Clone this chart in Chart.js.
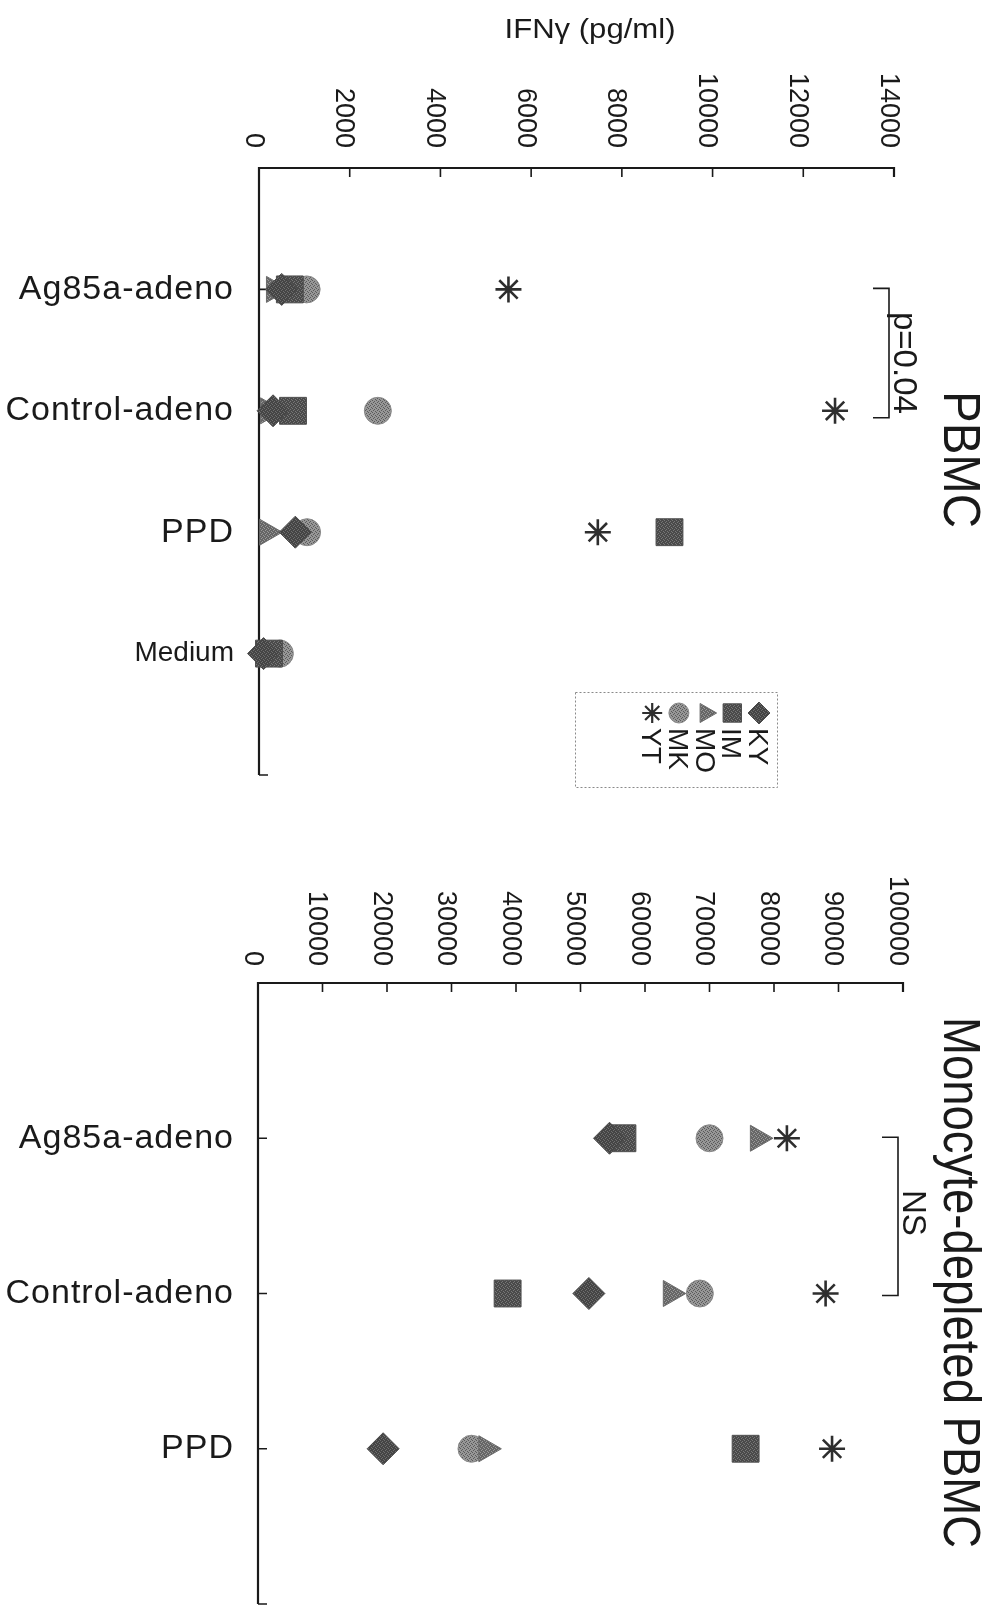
<!DOCTYPE html>
<html><head><meta charset="utf-8">
<script src="https://cdn.jsdelivr.net/npm/chart.js@4.4.1/dist/chart.umd.min.js"></script>
<style>
html,body{margin:0;padding:0;background:#fff;}
#wrap{position:relative;width:994px;height:1624px;overflow:hidden;background:#fff;}
canvas{position:absolute;left:0;top:0;}
</style></head><body>
<div id="wrap"><canvas id="c1" width="994" height="1624"></canvas><canvas id="c2" width="994" height="1624"></canvas></div>
<script>
// ---------- data ----------
const seriesNames = ['KY', 'IM', 'MO', 'MK', 'YT'];
const axisTitle = 'IFNγ (pg/ml)';

// Panel 1: PBMC
const pbmcTitle = 'PBMC';
const pbmcCategories = ['Ag85a-adeno', 'Control-adeno', 'PPD', 'Medium'];
const pbmcKY = [500, 310, 800, 100];
const pbmcIM = [680, 750, 9050, 220];
const pbmcMO = [330, 200, 180, 160];
const pbmcMK = [1050, 2620, 1060, 460];
const pbmcYT = [5500, 12700, 7470, 300];
const pbmcTicks = [0, 2000, 4000, 6000, 8000, 10000, 12000, 14000];
const pbmcStat = 'p=0.04';

// Panel 2: Monocyte-depleted PBMC
const mdTitle = 'Monocyte-depleted PBMC';
const mdCategories = ['Ag85a-adeno', 'Control-adeno', 'PPD'];
const mdKY = [54500, 51300, 19400];
const mdIM = [56500, 38700, 75600];
const mdMO = [77500, 64000, 35400];
const mdMK = [70000, 68500, 33100];
const mdYT = [82000, 88000, 89000];
const mdTicks = [0, 10000, 20000, 30000, 40000, 50000, 60000, 70000, 80000, 90000, 100000];
const mdStat = 'NS';

// ---------- styles ----------
const FONT = '"Liberation Sans", Arial, sans-serif';
const INK = '#1a1a1a';

function stipple(base, dot) {
  const c = document.createElement('canvas');
  c.width = 4; c.height = 4;
  const g = c.getContext('2d');
  g.fillStyle = base; g.fillRect(0, 0, 4, 4);
  g.fillStyle = dot;
  g.fillRect(0, 0, 1, 1); g.fillRect(2, 1, 1, 1); g.fillRect(1, 2, 1, 1); g.fillRect(3, 3, 1, 1);
  return g.createPattern(c, 'repeat');
}

const styles = [
  { pointStyle: 'rectRot', radius: 16, rotation: 0, color: '#4a4a4a', fill: stipple('#454545', '#6e6e6e') },
  { pointStyle: 'rect', radius: 19, rotation: 0, color: '#4e4e4e', fill: stipple('#4a4a4a', '#777777') },
  { pointStyle: 'triangle', radius: 15, rotation: 90, color: '#6a6a6a', fill: stipple('#666666', '#9a9a9a') },
  { pointStyle: 'circle', radius: 13.5, rotation: 0, color: '#8a8a8a', fill: stipple('#979797', '#5a5a5a') },
  { pointStyle: 'star', radius: 13, rotation: 0, color: '#2e2e2e', fill: '#2e2e2e' }
];

function buildDatasets(seriesArrays) {
  return seriesArrays.map((vals, i) => {
    const s = styles[i];
    return {
      label: seriesNames[i],
      data: vals.map((v, k) => ({ x: v, y: k + 1 })),
      pointStyle: s.pointStyle,
      pointRadius: s.radius,
      pointHoverRadius: s.radius,
      pointRotation: s.rotation,
      backgroundColor: s.fill,
      borderColor: s.color,
      borderWidth: s.pointStyle === 'star' ? 2.6 : 1,
      clip: false
    };
  });
}

function txt(ctx, s, x, y, o) {
  ctx.save();
  ctx.translate(x, y);
  if (o.rot) ctx.rotate(o.rot);
  ctx.font = o.font;
  if (o.spacing) ctx.letterSpacing = o.spacing;
  ctx.fillStyle = o.color || INK;
  ctx.textAlign = o.align || 'left';
  ctx.textBaseline = o.baseline || 'alphabetic';
  if (o.width) { const w = ctx.measureText(s).width; ctx.scale(o.width / w, 1); }
  ctx.fillText(s, 0, 0);
  ctx.restore();
}

function decorPlugin(cfg) {
  return {
    id: 'decor',
    beforeDatasetsDraw(chart) {
      const { ctx, chartArea: a, scales: { x, y } } = chart;
      ctx.save();
      ctx.strokeStyle = INK;
      ctx.lineWidth = 2.2;
      ctx.beginPath();
      ctx.moveTo(a.left, a.bottom); ctx.lineTo(a.left, a.top); ctx.lineTo(a.right, a.top); ctx.lineTo(a.right, a.top + 9);
      ctx.stroke();
      ctx.lineWidth = 1.6;
      ctx.beginPath();
      cfg.ticks.forEach(v => {
        if (v === 0) return;
        const px = x.getPixelForValue(v);
        ctx.moveTo(px, a.top); ctx.lineTo(px, a.top + 9);
      });
      for (let k = 1; k <= y.max; k++) {
        const py = y.getPixelForValue(k);
        ctx.moveTo(a.left, py); ctx.lineTo(a.left + 9, py);
      }
      ctx.stroke();
      ctx.restore();
      // value tick labels (rotated)
      cfg.ticks.forEach(v => {
        txt(ctx, String(v), x.getPixelForValue(v) - 6, a.top - cfg.labelGap,
          { rot: Math.PI / 2, align: 'right', baseline: 'middle', font: '27px ' + FONT });
      });
      // category labels
      cfg.categories.forEach((c, k) => {
        const small = c === 'Medium';
        txt(ctx, c, 234, y.getPixelForValue(k + 1), { align: 'right', baseline: 'middle',
          font: (small ? 28 : 34) + 'px ' + FONT, spacing: small ? '0px' : '1px' });
      });
    },
    afterDatasetsDraw(chart) {
      const { ctx, chartArea: a, scales: { x, y } } = chart;
      // significance bracket
      const y1 = y.getPixelForValue(1) - 1, y2 = y.getPixelForValue(2) + cfg.bracketExtra;
      const bx = a.right - 5;
      ctx.save();
      ctx.strokeStyle = INK; ctx.lineWidth = 1.6;
      ctx.beginPath();
      ctx.moveTo(bx - 16, y1); ctx.lineTo(bx, y1); ctx.lineTo(bx, y2); ctx.lineTo(bx - 16, y2);
      ctx.stroke();
      ctx.restore();
      txt(ctx, cfg.stat, bx + 5, cfg.statStart, { rot: Math.PI / 2, font: '33px ' + FONT });
      // panel title
      txt(ctx, cfg.title, 944, cfg.titleStart, { rot: Math.PI / 2, font: '51px ' + FONT, width: cfg.titleWidth });
      if (cfg.extra) cfg.extra(chart);
    }
  };
}

function drawLegendAndAxisTitle(chart) {
  const ctx = chart.ctx;
  txt(ctx, axisTitle, 590, 30, { align: 'center', baseline: 'middle', font: '28px ' + FONT, width: 171 });
  // legend box
  ctx.save();
  ctx.strokeStyle = '#8a8a8a'; ctx.lineWidth = 1; ctx.setLineDash([2, 2]);
  ctx.strokeRect(575.5, 692.5, 202, 95);
  ctx.restore();
  const legendRadius = { rectRot: 11, rect: 13, triangle: 11, circle: 10, star: 10 };
  chart.data.datasets.forEach((ds, i) => {
    const cx = 759 - i * 26.7;
    const s = styles[i];
    ctx.save();
    ctx.fillStyle = s.fill; ctx.strokeStyle = s.color;
    ctx.lineWidth = s.pointStyle === 'star' ? 2.2 : 1;
    Chart.helpers.drawPoint(ctx, {
      pointStyle: s.pointStyle, rotation: s.rotation,
      radius: legendRadius[s.pointStyle],
      borderWidth: ctx.lineWidth
    }, cx, 713);
    ctx.restore();
    txt(ctx, ds.label, cx - 10, 728, { rot: Math.PI / 2, font: '28px ' + FONT });
  });
}

function makeChart(id, datasets, xmax, ymax, pad, cfg) {
  return new Chart(document.getElementById(id), {
    type: 'scatter',
    data: { datasets },
    options: {
      responsive: false, animation: false, devicePixelRatio: 1,
      layout: { padding: pad },
      plugins: { legend: { display: false }, tooltip: { enabled: false } },
      scales: {
        x: { type: 'linear', min: 0, max: xmax, display: false },
        y: { type: 'linear', min: 0, max: ymax, reverse: true, display: false }
      }
    },
    plugins: [decorPlugin(cfg)]
  });
}

makeChart('c1', buildDatasets([pbmcKY, pbmcIM, pbmcMO, pbmcMK, pbmcYT]), 14000, 5,
  { left: 259, right: 100, top: 168, bottom: 1624 - 775 },
  { ticks: pbmcTicks, categories: pbmcCategories, labelGap: 20, stat: pbmcStat, statStart: 312,
    bracketExtra: 7, title: pbmcTitle, titleStart: 391, titleWidth: 137, extra: drawLegendAndAxisTitle });

makeChart('c2', buildDatasets([mdKY, mdIM, mdMO, mdMK, mdYT]), 100000, 4,
  { left: 258, right: 91, top: 983, bottom: 10 },
  { ticks: mdTicks, categories: mdCategories, labelGap: 17, stat: mdStat, statStart: 1190,
    bracketExtra: 2, title: mdTitle, titleStart: 1017, titleWidth: 531 });
</script>
</body></html>
